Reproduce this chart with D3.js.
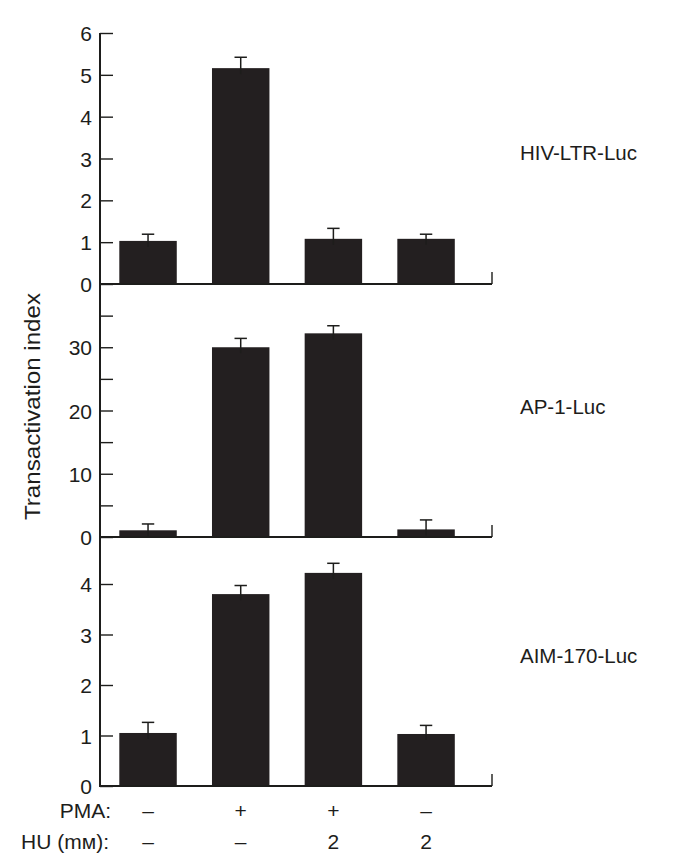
<!DOCTYPE html>
<html>
<head>
<meta charset="utf-8">
<script src="https://cdn.jsdelivr.net/npm/d3@7"></script>
<style>
  html, body { margin: 0; padding: 0; background: #fff; }
  svg text { font-family: "Liberation Sans", Arial, Helvetica, sans-serif; fill: #1d1d1b; }
</style>
</head>
<body>
<svg id="chart" width="674" height="868"></svg>
<script>
// ---- data ----
const conditions = ["c1", "c2", "c3", "c4"];
const pmaLabels = ["\u2013", "+", "+", "\u2013"];
const huLabels = ["\u2013", "\u2013", "2", "2"];
const panelNames = ["HIV-LTR-Luc", "AP-1-Luc", "AIM-170-Luc"];

const hivValues = [1.03, 5.16, 1.08, 1.08];
const hivErrors = [0.16, 0.26, 0.25, 0.11];
const ap1Values = [1.06, 30.0, 32.2, 1.2];
const ap1Errors = [1.0, 1.4, 1.2, 1.5];
const aimValues = [1.05, 3.80, 4.22, 1.03];
const aimErrors = [0.21, 0.17, 0.19, 0.17];

const hivTicks = [0, 1, 2, 3, 4, 5, 6];
const hivTickLabels = ["0", "1", "2", "3", "4", "5", "6"];
const ap1Ticks = [0, 5, 10, 15, 20, 25, 30, 35];
const ap1TickLabels = ["0", "", "10", "", "20", "", "30", ""];
const aimTicks = [0, 1, 2, 3, 4];
const aimTickLabels = ["0", "1", "2", "3", "4"];

const yAxisTitle = "Transactivation index";
const pmaTitle = "PMA:";
const huTitle = "HU (m\u1D0D):";

// ---- layout ----
const ink = "#1d1d1b";
const barColor = "#231f20";
const axisX = 100, axisRight = 492;
const svg = d3.select("#chart");

const x = d3.scaleBand().domain(conditions).range([101.7, 472.4])
  .paddingInner(0.38).paddingOuter(0.19);

const panels = [
  { name: panelNames[0], values: hivValues, errors: hivErrors, ticks: hivTicks, labels: hivTickLabels,
    y: d3.scaleLinear().domain([0, 6]).range([284, 33]), labelY: 160 },
  { name: panelNames[1], values: ap1Values, errors: ap1Errors, ticks: ap1Ticks, labels: ap1TickLabels,
    y: d3.scaleLinear().domain([0, 40]).range([537, 284]), labelY: 414 },
  { name: panelNames[2], values: aimValues, errors: aimErrors, ticks: aimTicks, labels: aimTickLabels,
    y: d3.scaleLinear().domain([0, 5]).range([786, 533.5]), labelY: 663 }
];

panels.forEach(p => {
  const g = svg.append("g");
  // bars
  g.selectAll("rect.bar").data(p.values).join("rect")
    .attr("x", (d, i) => x(conditions[i]))
    .attr("width", x.bandwidth())
    .attr("y", d => p.y(d))
    .attr("height", d => p.y(0) - p.y(d))
    .attr("fill", barColor);
  // error bars
  const eb = g.selectAll("g.err").data(p.values).join("g");
  eb.append("line")
    .attr("x1", (d, i) => x(conditions[i]) + x.bandwidth() / 2)
    .attr("x2", (d, i) => x(conditions[i]) + x.bandwidth() / 2)
    .attr("y1", d => p.y(d) + 6)
    .attr("y2", (d, i) => p.y(d + p.errors[i]))
    .attr("stroke", ink).attr("stroke-width", 1.5);
  eb.append("line")
    .attr("x1", (d, i) => x(conditions[i]) + x.bandwidth() / 2 - 6.2)
    .attr("x2", (d, i) => x(conditions[i]) + x.bandwidth() / 2 + 6.2)
    .attr("y1", (d, i) => p.y(d + p.errors[i]))
    .attr("y2", (d, i) => p.y(d + p.errors[i]))
    .attr("stroke", ink).attr("stroke-width", 1.5);

  // y axis ticks
  const axis = d3.axisLeft(p.y).tickValues(p.ticks)
    .tickSizeInner(-13).tickSizeOuter(0).tickPadding(8)
    .tickFormat((d, i) => p.labels[i]);
  const ag = g.append("g").attr("transform", `translate(${axisX},0)`).call(axis);
  ag.select(".domain").remove();
  ag.selectAll(".tick line").attr("stroke", ink).attr("stroke-width", 1.4);
  ag.selectAll(".tick text").attr("font-size", 21).attr("fill", ink)
    .attr("font-family", "'Liberation Sans', Arial, sans-serif")
    .attr("dy", "0.36em");

  // baseline + right end tick
  g.append("line").attr("x1", axisX).attr("x2", axisRight)
    .attr("y1", p.y(0)).attr("y2", p.y(0))
    .attr("stroke", ink).attr("stroke-width", 1.8);
  g.append("line").attr("x1", axisRight).attr("x2", axisRight)
    .attr("y1", p.y(0)).attr("y2", p.y(0) - 12)
    .attr("stroke", ink).attr("stroke-width", 1.4);

  // panel name
  g.append("text").attr("x", 520).attr("y", p.labelY)
    .attr("font-size", 20.5).text(p.name);
});

// continuous vertical axis
svg.append("line").attr("x1", axisX).attr("x2", axisX)
  .attr("y1", panels[0].y(6)).attr("y2", panels[2].y(0) + 1)
  .attr("stroke", ink).attr("stroke-width", 2);

// y-axis title
svg.append("text")
  .attr("transform", "translate(40,406.5) rotate(-90)")
  .attr("text-anchor", "middle").attr("font-size", 22.5)
  .attr("textLength", 227).attr("lengthAdjust", "spacingAndGlyphs")
  .text(yAxisTitle);

// condition rows
svg.append("text").attr("x", 111).attr("y", 818).attr("text-anchor", "end")
  .attr("font-size", 21).text(pmaTitle);
svg.append("text").attr("x", 109).attr("y", 849).attr("text-anchor", "end")
  .attr("font-size", 21).text(huTitle);
svg.selectAll("text.pma").data(pmaLabels).join("text").attr("class", "pma")
  .attr("x", (d, i) => x(conditions[i]) + x.bandwidth() / 2)
  .attr("y", 818).attr("text-anchor", "middle").attr("font-size", 21).text(d => d);
svg.selectAll("text.hu").data(huLabels).join("text").attr("class", "hu")
  .attr("x", (d, i) => x(conditions[i]) + x.bandwidth() / 2)
  .attr("y", 849).attr("text-anchor", "middle").attr("font-size", 21).text(d => d);
</script>
</body>
</html>
